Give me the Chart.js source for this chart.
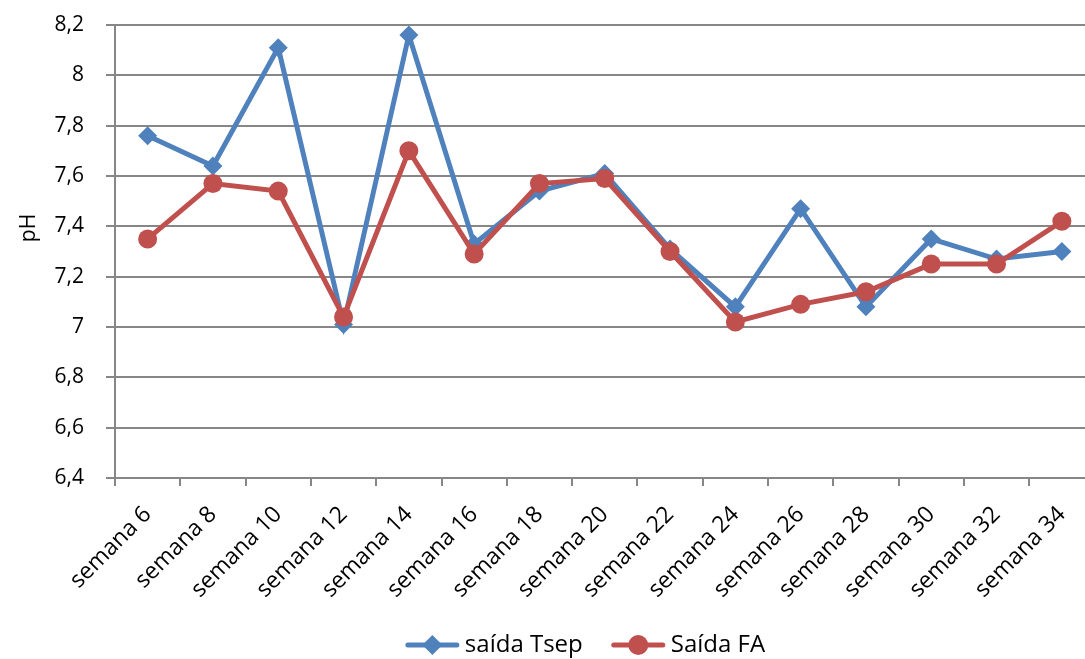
<!DOCTYPE html>
<html>
<head>
<meta charset="utf-8">
<script src="https://cdn.jsdelivr.net/npm/chart.js@4"></script>
<style>
  html, body { margin: 0; padding: 0; background: #fff; overflow: hidden; }
  /* plot runs a little past the right edge, as in the original */
  #wrap { width: 1104px; height: 659px; position: relative; }
</style>
</head>
<body>
<div id="wrap"><canvas id="phChart"></canvas></div>
<script>
// weeks and pH values
const semanas = ['semana 6', 'semana 8', 'semana 10', 'semana 12', 'semana 14', 'semana 16', 'semana 18', 'semana 20',
  'semana 22', 'semana 24', 'semana 26', 'semana 28', 'semana 30', 'semana 32', 'semana 34'];
const saidaTsep = [7.76, 7.64, 8.11, 7.01, 8.16, 7.33, 7.54, 7.61, 7.31, 7.08, 7.47, 7.08, 7.35, 7.27, 7.30];
const saidaFA = [7.35, 7.57, 7.54, 7.04, 7.70, 7.29, 7.57, 7.59, 7.30, 7.02, 7.09, 7.14, 7.25, 7.25, 7.42];
const yTicks = [6.4, 6.6, 6.8, 7, 7.2, 7.4, 7.6, 7.8, 8, 8.2];

const BLUE = '#4F81BD';
const RED = '#C0504D';
const GRID = '#878787';
const FONT = "'Open Sans', 'Noto Sans', sans-serif";

const fmt = v => String(Math.round(v * 10) / 10).replace('.', ',');

function drawMarker(ctx, style, x, y) {
  ctx.beginPath();
  if (style === 'rectRot') {
    ctx.moveTo(x, y - 10); ctx.lineTo(x + 10, y); ctx.lineTo(x, y + 10); ctx.lineTo(x - 10, y);
  } else {
    ctx.arc(x, y, 10, 0, Math.PI * 2);
  }
  ctx.closePath(); ctx.fill();
}

// y axis title + legend drawn in excel-like positions
const decorations = {
  id: 'decorations',
  afterDraw(chart) {
    const ctx = chart.ctx;
    ctx.save();
    ctx.fillStyle = '#000';
    ctx.font = `21px ${FONT}`;
    ctx.translate(29, 228);
    ctx.rotate(-Math.PI / 2);
    ctx.textAlign = 'center';
    ctx.textBaseline = 'middle';
    ctx.fillText('pH', 0, 0);
    ctx.restore();

    // legend: line with marker, then label
    ctx.save();
    ctx.font = `24px ${FONT}`;
    ctx.textBaseline = 'middle';
    const iconW = 55, gapText = 5, gapItem = 28, cy = 645;
    const items = chart.data.datasets.map(ds => ({ ds, w: ctx.measureText(ds.label).width }));
    const total = items.reduce((s, it) => s + iconW + gapText + it.w, 0) + gapItem * (items.length - 1);
    let x = 585 - total / 2;
    items.forEach(({ ds, w }) => {
      ctx.strokeStyle = ds.borderColor; ctx.fillStyle = ds.borderColor;
      ctx.lineWidth = 5; ctx.lineCap = 'round';
      ctx.beginPath(); ctx.moveTo(x + 3, cy); ctx.lineTo(x + iconW - 3, cy); ctx.stroke();
      drawMarker(ctx, ds.pointStyle, x + iconW / 2, cy);
      ctx.fillStyle = '#000';
      ctx.fillText(ds.label, x + iconW + gapText, cy);
      x += iconW + gapText + w + gapItem;
    });
    ctx.restore();
  }
};

new Chart(document.getElementById('phChart'), {
  type: 'line',
  data: {
    labels: semanas,
    datasets: [
      {
        label: 'saída Tsep', data: saidaTsep, order: 2,
        borderColor: BLUE, backgroundColor: BLUE, borderWidth: 5,
        pointStyle: 'rectRot', pointRadius: 9.5, pointBorderWidth: 0, tension: 0
      },
      {
        label: 'Saída FA', data: saidaFA, order: 1,
        borderColor: RED, backgroundColor: RED, borderWidth: 5,
        pointStyle: 'circle', pointRadius: 9.5, pointBorderWidth: 0, tension: 0
      }
    ]
  },
  plugins: [decorations],
  options: {
    responsive: true, maintainAspectRatio: false, animation: false,
    layout: { padding: { top: 25, right: 0, left: 14, bottom: 0 } },
    plugins: {
      tooltip: { enabled: false },
      legend: { display: false }
    },
    scales: {
      x: {
        offset: true,
        grid: { offset: true, drawOnChartArea: false, drawTicks: true, tickLength: 8, color: GRID, lineWidth: 2 },
        border: { color: GRID, width: 2 },
        ticks: { color: '#000', font: { family: FONT, size: 23 }, minRotation: 45, maxRotation: 45, padding: 15 },
        afterFit: s => { s.height = 181; s.paddingLeft = 0; s.paddingRight = 0; }
      },
      y: {
        min: 6.4, max: 8.2,
        afterBuildTicks: s => { s.ticks = yTicks.map(v => ({ value: v })); },
        grid: { color: GRID, lineWidth: 2, tickLength: 9 },
        border: { color: GRID, width: 2 },
        ticks: { color: '#000', font: { family: FONT, size: 21 }, padding: 22, callback: v => fmt(v) },
        afterFit: s => { s.width = 101; s.paddingTop = 0; s.paddingBottom = 0; }
      }
    }
  }
});
</script>
</body>
</html>
